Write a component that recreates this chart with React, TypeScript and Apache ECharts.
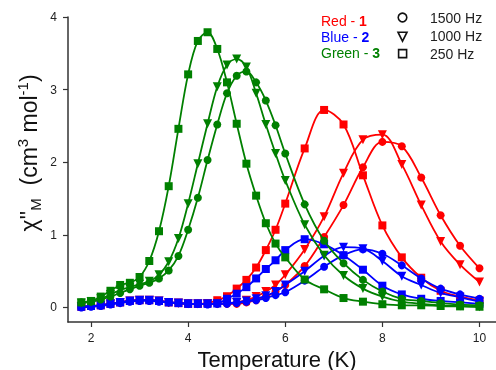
import React, { useEffect, useRef } from "react";
import * as echarts from "echarts";

const temperatures = [
  1.8, 2.0, 2.2, 2.4, 2.6, 2.8, 3.0, 3.2, 3.4, 3.6, 3.8, 4.0, 4.2, 4.4, 4.6, 4.8,
  5.0, 5.2, 5.4, 5.6, 5.8, 6.0, 6.4, 6.8, 7.2, 7.6, 8.0, 8.4, 8.8, 9.2, 9.6, 10.0,
];

const red1500 = [0.01, 0.02, 0.03, 0.05, 0.07, 0.09, 0.1, 0.1, 0.09, 0.07, 0.06, 0.05, 0.05, 0.05, 0.05, 0.05, 0.05, 0.07, 0.1, 0.15, 0.22, 0.31, 0.57, 0.97, 1.41, 1.93, 2.28, 2.22, 1.79, 1.27, 0.85, 0.54];
const red1000 = [0.01, 0.02, 0.03, 0.05, 0.07, 0.09, 0.1, 0.1, 0.09, 0.07, 0.06, 0.05, 0.05, 0.05, 0.05, 0.06, 0.07, 0.1, 0.15, 0.22, 0.31, 0.45, 0.8, 1.25, 1.85, 2.31, 2.38, 1.97, 1.41, 0.91, 0.59, 0.35];
const red250 = [0.01, 0.02, 0.03, 0.05, 0.07, 0.09, 0.1, 0.1, 0.09, 0.07, 0.06, 0.05, 0.05, 0.06, 0.1, 0.155, 0.26, 0.38, 0.55, 0.79, 1.07, 1.43, 2.19, 2.72, 2.52, 1.82, 1.13, 0.69, 0.41, 0.23, 0.15, 0.1];

const blue1500 = [0.0, 0.01, 0.02, 0.04, 0.06, 0.08, 0.09, 0.09, 0.08, 0.07, 0.06, 0.05, 0.05, 0.04, 0.05, 0.05, 0.06, 0.08, 0.1, 0.13, 0.17, 0.21, 0.37, 0.56, 0.72, 0.8, 0.74, 0.58, 0.4, 0.26, 0.18, 0.12];
const blue1000 = [0.01, 0.02, 0.03, 0.05, 0.07, 0.09, 0.1, 0.1, 0.09, 0.07, 0.06, 0.05, 0.05, 0.05, 0.05, 0.06, 0.07, 0.09, 0.12, 0.16, 0.22, 0.31, 0.5, 0.71, 0.83, 0.81, 0.64, 0.43, 0.31, 0.2, 0.14, 0.08];
const blue250 = [0.01, 0.02, 0.03, 0.05, 0.07, 0.09, 0.1, 0.1, 0.09, 0.07, 0.06, 0.05, 0.05, 0.05, 0.055, 0.12, 0.19, 0.28, 0.4, 0.53, 0.65, 0.79, 0.94, 0.87, 0.72, 0.52, 0.3, 0.18, 0.12, 0.09, 0.07, 0.05];

const green1500 = [0.07, 0.08, 0.11, 0.15, 0.2, 0.25, 0.3, 0.34, 0.4, 0.51, 0.71, 1.07, 1.51, 2.03, 2.52, 2.95, 3.19, 3.25, 3.1, 2.85, 2.51, 2.12, 1.42, 0.92, 0.61, 0.38, 0.22, 0.12, 0.09, 0.06, 0.04, 0.03];
const green1000 = [0.06, 0.08, 0.12, 0.18, 0.24, 0.28, 0.32, 0.36, 0.45, 0.63, 0.95, 1.43, 1.98, 2.53, 3.04, 3.34, 3.42, 3.31, 2.95, 2.52, 2.12, 1.75, 1.14, 0.72, 0.44, 0.26, 0.15, 0.08, 0.05, 0.03, 0.02, 0.01];
const green250 = [0.07, 0.09, 0.15, 0.23, 0.31, 0.34, 0.42, 0.64, 1.05, 1.67, 2.46, 3.21, 3.67, 3.79, 3.56, 3.1, 2.53, 1.98, 1.54, 1.16, 0.88, 0.69, 0.385, 0.25, 0.13, 0.08, 0.045, 0.03, 0.03, 0.02, 0.015, 0.01];

const xTicks = [2, 4, 6, 8, 10];
const yTicks = [0, 1, 2, 3, 4];

const RED = "#ff0000";
const BLUE = "#0000ff";
const GREEN = "#008000";
const FONT = "'Liberation Sans', Arial, Helvetica, sans-serif";

export default function App() {
  const ref = useRef<HTMLDivElement>(null);

  useEffect(() => {
    const chart = echarts.init(ref.current!, null, { renderer: "svg" });

    const mk = (name: string, values: number[], color: string, kind: string, z: number) => {
      const symbol = kind === "c" ? "circle" : kind === "t" ? "triangle" : "rect";
      const size = kind === "c" ? 8 : kind === "t" ? 9 : 8;
      return {
        type: "line",
        name,
        data: temperatures.map((t, i) => [t, values[i]]),
        smooth: 0.35,
        symbol,
        symbolSize: size,
        symbolRotate: kind === "t" ? 180 : 0,
        showSymbol: true,
        lineStyle: { color, width: 1.8 },
        itemStyle: { color, borderWidth: 0 },
        emphasis: { disabled: true },
        z,
      };
    };

    const legendText = (label: string, num: string, color: string, y: number) => ({
      type: "text",
      x: 321,
      y,
      style: {
        text: `{n|${label} - }{b|${num}}`,
        rich: {
          n: { fontSize: 14, fontFamily: FONT, fill: color },
          b: { fontSize: 14, fontFamily: FONT, fill: color, fontWeight: "bold" },
        },
        align: "left",
        verticalAlign: "middle",
        textAlign: "left",
        textVerticalAlign: "middle",
      },
    });

    const hzText = (label: string, y: number) => ({
      type: "text",
      x: 430,
      y,
      style: {
        text: label,
        fontSize: 14,
        fontFamily: FONT,
        fill: "#222",
        align: "left",
        verticalAlign: "middle",
        textAlign: "left",
        textVerticalAlign: "middle",
      },
    });

    chart.setOption({
      animation: false,
      grid: { left: 68, right: 0, top: 17, bottom: 48, containLabel: false },
      xAxis: {
        type: "value",
        min: 1.526,
        max: 10.34,
        axisLine: { onZero: false, lineStyle: { color: "#333", width: 1.5 } },
        axisTick: { customValues: xTicks, length: 5, lineStyle: { color: "#333", width: 1.2 } },
        axisLabel: { customValues: xTicks, margin: 10, fontSize: 12, color: "#222", fontFamily: FONT },
        splitLine: { show: false },
      },
      yAxis: {
        type: "value",
        min: -0.2,
        max: 4,
        axisLine: { show: true, onZero: false, lineStyle: { color: "#333", width: 1.5 } },
        axisTick: { show: true, customValues: yTicks, length: 5, lineStyle: { color: "#333", width: 1.2 } },
        axisLabel: { customValues: yTicks, margin: 11, fontSize: 12, color: "#222", fontFamily: FONT },
        splitLine: { show: false },
      },
      series: [
        mk("Red 1500 Hz", red1500, RED, "c", 2),
        mk("Red 1000 Hz", red1000, RED, "t", 2),
        mk("Red 250 Hz", red250, RED, "s", 2),
        mk("Blue 1500 Hz", blue1500, BLUE, "c", 3),
        mk("Blue 1000 Hz", blue1000, BLUE, "t", 3),
        mk("Blue 250 Hz", blue250, BLUE, "s", 3),
        mk("Green 1500 Hz", green1500, GREEN, "c", 4),
        mk("Green 1000 Hz", green1000, GREEN, "t", 4),
        mk("Green 250 Hz", green250, GREEN, "s", 4),
      ],
      graphic: [
        {
          type: "text",
          x: 277,
          y: 359,
          style: {
            text: "Temperature (K)",
            fontSize: 22,
            fontFamily: FONT,
            fill: "#111",
            align: "center",
            verticalAlign: "middle",
            textAlign: "center",
            textVerticalAlign: "middle",
          },
        },
        {
          type: "text",
          x: 29,
          y: 153,
          rotation: Math.PI / 2,
          style: {
            text: "{m|χ}{m|''}{s|M}{m|  (cm}{p|3}{m| mol}{p|-1}{m|)}",
            rich: {
              m: { fontSize: 23, fontFamily: FONT, fill: "#111", lineHeight: 28 },
              s: { fontSize: 15, fontFamily: FONT, fill: "#111", verticalAlign: "bottom", lineHeight: 15 },
              p: { fontSize: 15, fontFamily: FONT, fill: "#111", verticalAlign: "top", lineHeight: 15 },
            },
            align: "center",
            verticalAlign: "middle",
            textAlign: "center",
            textVerticalAlign: "middle",
          },
        },
        legendText("Red", "1", RED, 21),
        legendText("Blue", "2", BLUE, 37),
        legendText("Green", "3", GREEN, 53),
        { type: "circle", shape: { cx: 402.5, cy: 17.5, r: 4.3 }, style: { fill: "none", stroke: "#111", lineWidth: 1.6 } },
        {
          type: "polygon",
          shape: { points: [[398, 32.2], [407, 32.2], [402.5, 41.2]] },
          style: { fill: "none", stroke: "#111", lineWidth: 1.6 },
        },
        { type: "rect", shape: { x: 398.6, y: 49.6, width: 8, height: 8 }, style: { fill: "none", stroke: "#111", lineWidth: 1.6 } },
        hzText("1500 Hz", 17.5),
        hzText("1000 Hz", 35.5),
        hzText("250 Hz", 53.5),
      ],
    });

    return () => chart.dispose();
  }, []);

  return <div ref={ref} style={{ position: "fixed", left: 0, top: 0, width: 496, height: 370 }} />;
}
